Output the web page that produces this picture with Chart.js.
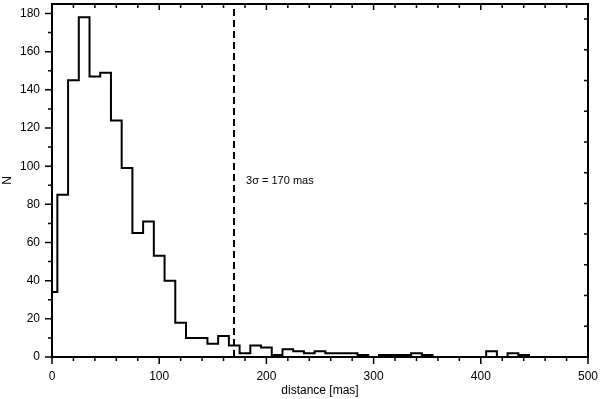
<!DOCTYPE html>
<html>
<head>
<meta charset="utf-8">
<script src="https://cdn.jsdelivr.net/npm/chart.js@4/dist/chart.umd.min.js"></script>
<style>
  html, body { margin: 0; padding: 0; background: #fff; }
  #wrap { width: 600px; height: 399px; }
</style>
</head>
<body>
<div id="wrap"><canvas id="myChart" width="600" height="399"></canvas></div>
<script>
// bin centres (mas), 10 mas wide
const binCenters = [0, 10, 20, 30, 40, 50, 60, 70, 80, 90,
  100, 110, 120, 130, 140, 150, 160, 170, 180, 190,
  200, 210, 220, 230, 240, 250, 260, 270, 280, 290,
  300, 310, 320, 330, 340, 350, 360, 370, 380, 390,
  400, 410, 420, 430, 440, 450];
const counts = [34, 85, 145, 178, 147, 149, 124, 99, 65, 71,
  53, 40, 18, 10, 10, 7, 11, 6, 2, 6,
  5, 1, 4, 3, 2, 3, 2, 2, 2, 1,
  0, 1, 1, 1, 2, 1, 0, 0, 0, 0,
  0, 3, 0, 2, 1, 0];
const xLabels = [0, 100, 200, 300, 400, 500];
const yLabels = [0, 20, 40, 60, 80, 100, 120, 140, 160, 180];
const xMinor = [20, 40, 60, 80, 120, 140, 160, 180, 220, 240, 260, 280, 320, 340, 360, 380, 420, 440, 460, 480];
const yMinor = [10, 30, 50, 70, 90, 110, 130, 150, 170];
const rightTicks = [16.1, 32.2, 48.3, 64.4, 80.5, 96.6, 112.7, 128.8, 144.9, 161, 177.1];
const sigmaLine = 170;
const sigmaText = '3σ = 170 mas';

const font = 'Liberation Sans, Arial, Helvetica, sans-serif';

const frame = {
  id: 'frame',
  afterDraw(chart) {
    const ctx = chart.ctx;
    const x = chart.scales.x, y = chart.scales.y;
    const a = chart.chartArea;
    ctx.save();
    // dashed 3 sigma line
    ctx.strokeStyle = '#000';
    ctx.lineWidth = 2;
    ctx.setLineDash([7, 4]);
    const sx = Math.round(x.getPixelForValue(sigmaLine));
    ctx.beginPath();
    ctx.moveTo(sx, a.bottom);
    ctx.lineTo(sx, a.top);
    ctx.stroke();
    ctx.setLineDash([]);
    // label
    ctx.fillStyle = '#000';
    ctx.font = '11px ' + font;
    ctx.textBaseline = 'middle';
    ctx.fillText(sigmaText, x.getPixelForValue(181), y.getPixelForValue(92));
    // ticks
    ctx.lineWidth = 1.5;
    ctx.beginPath();
    xLabels.forEach(v => {
      const p = x.getPixelForValue(v);
      ctx.moveTo(p, a.bottom); ctx.lineTo(p, a.bottom + 7);
      ctx.moveTo(p, a.top); ctx.lineTo(p, a.top + 6);
    });
    xMinor.forEach(v => {
      const p = x.getPixelForValue(v);
      ctx.moveTo(p, a.bottom); ctx.lineTo(p, a.bottom + 4);
      ctx.moveTo(p, a.top); ctx.lineTo(p, a.top + 4);
    });
    yLabels.forEach(v => {
      const p = y.getPixelForValue(v);
      ctx.moveTo(a.left, p); ctx.lineTo(a.left - 7, p);
    });
    yMinor.forEach(v => {
      const p = y.getPixelForValue(v);
      ctx.moveTo(a.left, p); ctx.lineTo(a.left - 4, p);
    });
    rightTicks.forEach(v => {
      const p = y.getPixelForValue(v);
      ctx.moveTo(a.right, p); ctx.lineTo(a.right - 4, p);
    });
    ctx.stroke();
    // box
    ctx.lineWidth = 2;
    ctx.strokeRect(a.left, a.top, a.right - a.left, a.bottom - a.top);
    ctx.restore();
  }
};

const table = document.getElementById('myChart').getContext('2d');
new Chart(table, {
  type: 'line',
  data: {
    datasets: [{
      data: binCenters.map((c, i) => ({x: c, y: counts[i]})),
      borderColor: '#000',
      borderWidth: 2,
      pointRadius: 0,
      stepped: 'middle',
      fill: false
    }]
  },
  options: {
    responsive: false,
    animation: false,
    layout: { padding: { top: 4, right: 12, left: 0, bottom: 0 } },
    plugins: { legend: { display: false }, tooltip: { enabled: false } },
    scales: {
      x: {
        type: 'linear', min: 0, max: 500,
        grid: { display: false, drawTicks: false },
        border: { display: false },
        ticks: { stepSize: 100, padding: 12, color: '#000', font: { family: font, size: 12 }, maxRotation: 0 },
        title: { display: true, text: 'distance [mas]', color: '#000', font: { family: font, size: 12 }, padding: { top: 0, bottom: 1 } },
        afterFit(s) { s.height = 42; s.paddingLeft = 0; s.paddingRight = 0; }
      },
      y: {
        min: 0, max: 185,
        grid: { display: false, drawTicks: false },
        border: { display: false },
        ticks: { stepSize: 20, includeBounds: false, padding: 12, color: '#000', font: { family: font, size: 12 } },
        afterBuildTicks(s) { s.ticks = s.ticks.filter(t => t.value % 20 === 0); },
        title: { display: true, text: 'N', color: '#000', font: { family: font, size: 12 }, padding: { top: 0, bottom: 0 } },
        afterFit(s) { s.width = 52; s.paddingTop = 0; s.paddingBottom = 0; }
      }
    }
  },
  plugins: [frame]
});
</script>
</body>
</html>
